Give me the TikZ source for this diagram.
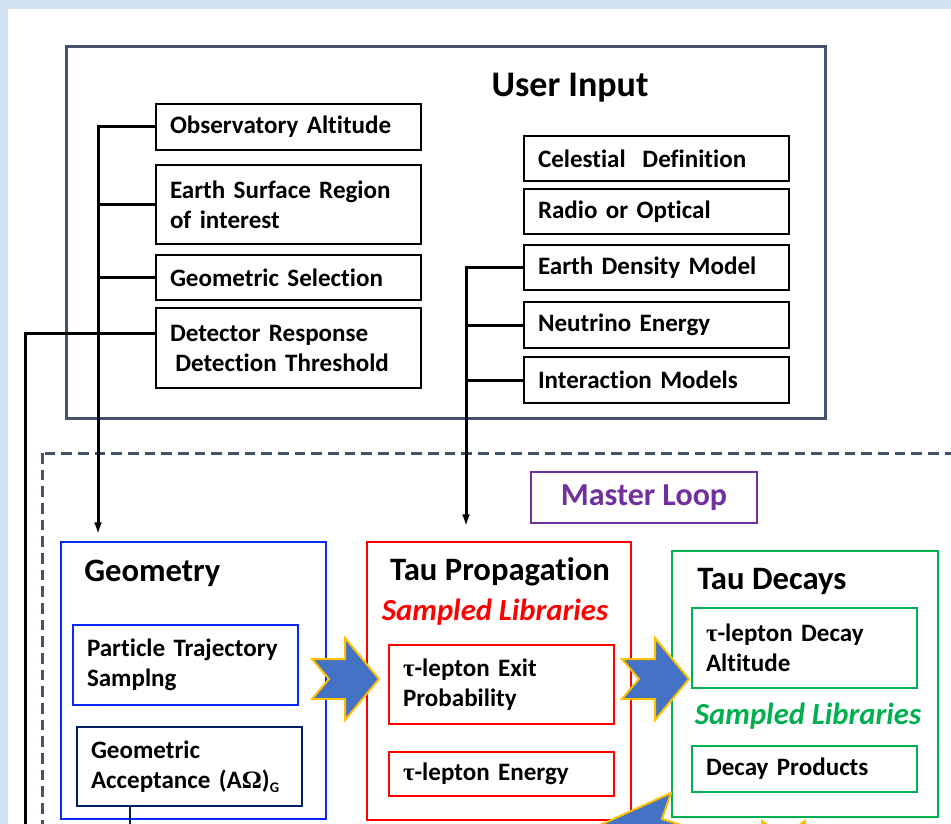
\documentclass[tikz,border=0pt]{standalone}
\usepackage{fontspec}
\setmainfont{Carlito}[Ligatures=NoCommon]
\newfontfamily\grk{Liberation Serif}
\usetikzlibrary{arrows.meta}

\definecolor{slate}{RGB}{68,84,106}
\definecolor{geoblue}{RGB}{10,40,250}
\definecolor{navy}{RGB}{0,32,96}
\definecolor{propred}{RGB}{255,0,0}
\definecolor{decgreen}{RGB}{0,176,80}
\definecolor{loopviolet}{RGB}{112,48,160}
\definecolor{arrowfill}{RGB}{68,114,196}
\definecolor{arrowgold}{RGB}{255,192,0}
\definecolor{paper}{RGB}{210,227,244}

\newcommand{\titlefont}{\bfseries\fontsize{24.5}{28}\selectfont}
\newcommand{\libfont}{\bfseries\itshape\fontsize{23}{26}\selectfont}

\tikzset{
	inbox/.style={draw, line width=1.5pt, fill=white, align=left, inner xsep=10.5pt, inner ysep=0pt,
		font=\bfseries\fontsize{18.8}{22.5}\selectfont},
	widebox/.style={inbox, text width=177.75pt, minimum height=#1},
	smallbox/.style={inbox, text width=147.75pt, minimum height=#1},
	stagebox/.style={draw=#1, line width=1.5pt, fill=white, inner sep=0pt},
	wire/.style={line width=2.25pt},
	blockarrow/.style={fill=arrowfill, draw=arrowgold, line width=1.5pt, line join=miter},
}

\begin{document}
\begin{tikzpicture}[x=0.75pt, y=-0.75pt]
	\useasboundingbox (0,0) rectangle (951,824);
	\clip (0,0) rectangle (951,824);
	\fill[paper] (0,0) rectangle (951,824);
	\fill[white] (8,9) rectangle (951,824);

	% user input
	\draw[slate, line width=2.25pt] (66,47) rectangle (825,418);
	\node[font=\bfseries\fontsize{27}{30}\selectfont, inner sep=0pt] (userin) at (570,88) {User Input};

	\node[widebox=34.5pt] (obs) at (288.5,127) {Observatory Altitude};
	\node[widebox=59.25pt] (earth) at (288.5,204.5) {Earth Surface Region\\of interest};
	\node[widebox=33.75pt] (geosel) at (288.5,277.5) {Geometric Selection};
	\node[widebox=60pt] (detect) at (288.5,348) {Detector Response\\\hspace*{4pt}Detection Threshold};

	\node[widebox=33.75pt] (celest) at (656.5,158.5) {Celestial\ \ Definition};
	\node[widebox=33.75pt] (radio) at (656.5,211.5) {Radio or Optical};
	\node[widebox=33.75pt] (density) at (656.5,267.5) {Earth Density Model};
	\node[widebox=34.5pt] (neutrino) at (656.5,325) {Neutrino Energy};
	\node[widebox=34.5pt] (interact) at (656.5,380) {Interaction Models};

	% master loop
	\draw[slate, line width=2.25pt, dash pattern=on 8pt off 4.5pt] (42,453) rectangle (990,870);
	\node[draw=loopviolet, line width=1.8pt, text=loopviolet, minimum width=169.5pt, minimum height=38.25pt,
		font=\bfseries\fontsize{24}{26}\selectfont] (loop) at (644,497.5) {Master Loop};

	\node[stagebox=geoblue, minimum width=198.75pt, minimum height=207.75pt] (geom) at (193.5,680.5) {};
	\node[font=\titlefont, anchor=west, inner sep=0pt] (geomtitle) at (84,573) {Geometry};
	\node[smallbox=60pt, draw=geoblue] (traj) at (185.5,665) {Particle Trajectory\\Samplng};
	\node[smallbox=59.25pt, draw=navy] (accept) at (189.5,766.5)
		{Geometric\\Acceptance (A{\grk Ω})\raisebox{-3pt}{\fontsize{11}{11}\selectfont G}};

	\node[stagebox=propred, minimum width=198pt, minimum height=208.5pt] (prop) at (499,681) {};
	\node[font=\titlefont, inner sep=0pt] (proptitle) at (500,572) {Tau Propagation};
	\node[font=\libfont, text=propred, inner sep=0pt] (proplib) at (495,612) {Sampled Libraries};
	\node[smallbox=59.25pt, draw=propred] (exit) at (501.5,684.5) {{\grk τ}-lepton Exit\\Probability};
	\node[smallbox=33pt, draw=propred] (energy) at (501.5,774) {{\grk τ}-lepton Energy};

	\node[stagebox=decgreen, minimum width=199.5pt, minimum height=199.5pt] (decay) at (805,684) {};
	\node[font=\titlefont, anchor=west, inner sep=0pt] (decaytitle) at (697,581) {Tau Decays};
	\node[smallbox=60pt, draw=decgreen] (alt) at (804.5,648) {{\grk τ}-lepton Decay\\Altitude};
	\node[font=\libfont, text=decgreen, inner sep=0pt] (decaylib) at (808,716) {Sampled Libraries};
	\node[smallbox=34.5pt, draw=decgreen] (products) at (804.5,769) {Decay Products};

	% connectors
	\coordinate (lbus) at (98,0);
	\coordinate (rbus) at (466,0);
	\coordinate (rail) at (25,830);
	\draw[wire, -{Latex[length=9pt,width=6pt]}, shorten >=5pt] (obs.west) -| (geom.north -| lbus);
	\foreach \n in {earth,geosel}
		\draw[wire] (\n.west) -- (\n.west -| lbus);
	\draw[wire, -{Latex[length=9pt,width=6pt]}, shorten >=11pt] (density.west) -| (prop.north -| rbus);
	\foreach \n in {neutrino,interact}
		\draw[wire] (\n.west) -- (\n.west -| rbus);
	\draw[wire] ([yshift=11.25pt]detect.west) -| (rail);
	\draw[navy, line width=1.8pt] ([xshift=-44.6pt]accept.south) -- ([xshift=-44.6pt]accept.south |- rail);

	% block arrows
	\foreach \dx in {0,310}
		\draw[blockarrow, shift={(\dx,0)}] (312,659) -- (345,659) -- (345,638) -- (379,679)
			-- (345,720) -- (345,699) -- (312,699) -- (329,679) -- cycle;
	\draw[blockarrow] (589,830) -- (671,793) -- (662,819) -- (698,830) -- cycle;
	\draw[blockarrow] (762,821) -- (783,836) -- (805,821) -- (805,850) -- (762,850) -- cycle;
\end{tikzpicture}
\end{document}
